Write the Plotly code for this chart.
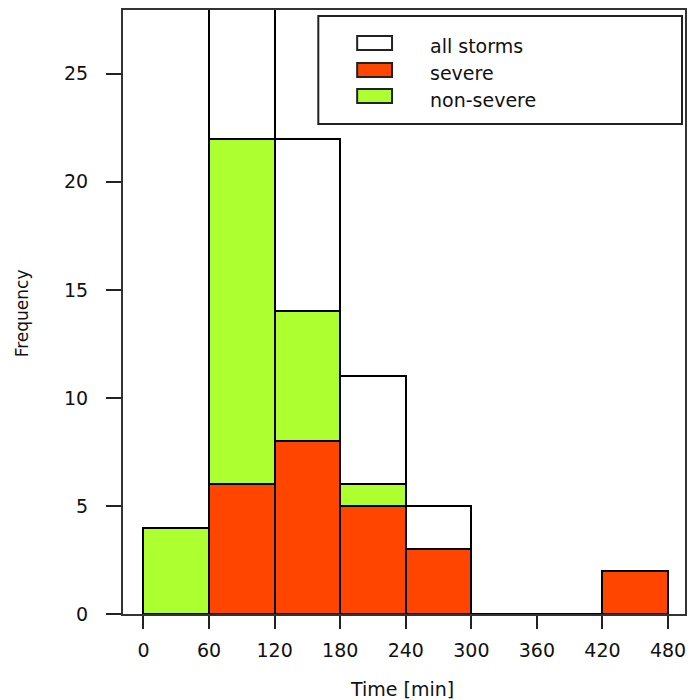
import plotly.graph_objects as go

# ---- data ----
bin_left = [0, 60, 120, 180, 240, 300, 360, 420]
bin_width = 60
all_storms = [4, 28, 22, 11, 5, 0, 0, 2]
severe = [0, 6, 8, 5, 3, 0, 0, 2]
non_severe = [4, 22, 14, 6, 2, 0, 0, 0]
x_ticks = [0, 60, 120, 180, 240, 300, 360, 420, 480]
y_ticks = [0, 5, 10, 15, 20, 25]
legend_labels = ["all storms", "severe", "non-severe"]
colors = {"all storms": "white", "severe": "#FF4500", "non-severe": "#ADFF2F"}

W, H = 689, 700
L, R, T, B = 123, 2, 10, 86
pw, ph = W - L - R, H - T - B
FONT = "DejaVu Sans"
TXT = "#111"

def px(xp):
    return (xp - L) / pw

def py(yp):
    return (H - B - yp) / ph

centers = [b + bin_width / 2 for b in bin_left]
fig = go.Figure()
for name, vals in [("all storms", all_storms), ("non-severe", non_severe), ("severe", severe)]:
    fig.add_trace(go.Bar(
        x=centers, y=vals, width=bin_width, name=name,
        marker=dict(color=colors[name], line=dict(color="black", width=2)),
        showlegend=False,
    ))

# legend (manual, R style)
shapes = [dict(type="rect", xref="paper", yref="paper",
               x0=px(319), x1=px(684), y0=py(124), y1=py(16),
               line=dict(color="#222", width=2), fillcolor="white", layer="above")]
annotations = []
sw_top = [36, 63, 89]
txt_mid = [46.5, 73, 100]
for i, lab in enumerate(legend_labels):
    shapes.append(dict(type="rect", xref="paper", yref="paper",
                       x0=px(358), x1=px(393), y0=py(sw_top[i] + 14), y1=py(sw_top[i]),
                       line=dict(color="#222", width=2), fillcolor=colors[lab], layer="above"))
    annotations.append(dict(text=lab, xref="paper", yref="paper", x=px(429), y=py(txt_mid[i]),
                            xanchor="left", yanchor="middle", showarrow=False,
                            font=dict(family=FONT, size=19, color=TXT)))

annotations.append(dict(text="Time [min]", xref="paper", yref="paper", x=px(403), y=py(689),
                        xanchor="center", yanchor="middle", showarrow=False,
                        font=dict(family=FONT, size=19, color=TXT)))
annotations.append(dict(text="Frequency", xref="paper", yref="paper", x=px(22), y=py(313),
                        xanchor="center", yanchor="middle", showarrow=False, textangle=-90,
                        font=dict(family=FONT, size=17, color=TXT)))

fig.update_layout(
    width=W, height=H, margin=dict(l=L, r=R, t=T, b=B),
    barmode="overlay", bargap=0,
    plot_bgcolor="white", paper_bgcolor="white",
    shapes=shapes, annotations=annotations,
    xaxis=dict(range=[-18.7, 495.5], tickvals=x_ticks, ticktext=[str(v) for v in x_ticks],
               ticks="outside", ticklen=13, tickwidth=2, tickcolor="#222",
               showline=True, mirror=True, linecolor="#333", linewidth=2,
               showgrid=False, zeroline=False, ticklabelstandoff=5,
               tickfont=dict(family=FONT, size=19, color=TXT)),
    yaxis=dict(range=[0, 27.95], tickvals=y_ticks, ticktext=[str(v) for v in y_ticks],
               ticks="outside", ticklen=15, tickwidth=2, tickcolor="#222",
               showline=True, mirror=True, linecolor="#333", linewidth=2,
               showgrid=False, zeroline=False, ticklabelstandoff=14,
               tickfont=dict(family=FONT, size=19, color=TXT)),
)
fig.write_html("out.html")
